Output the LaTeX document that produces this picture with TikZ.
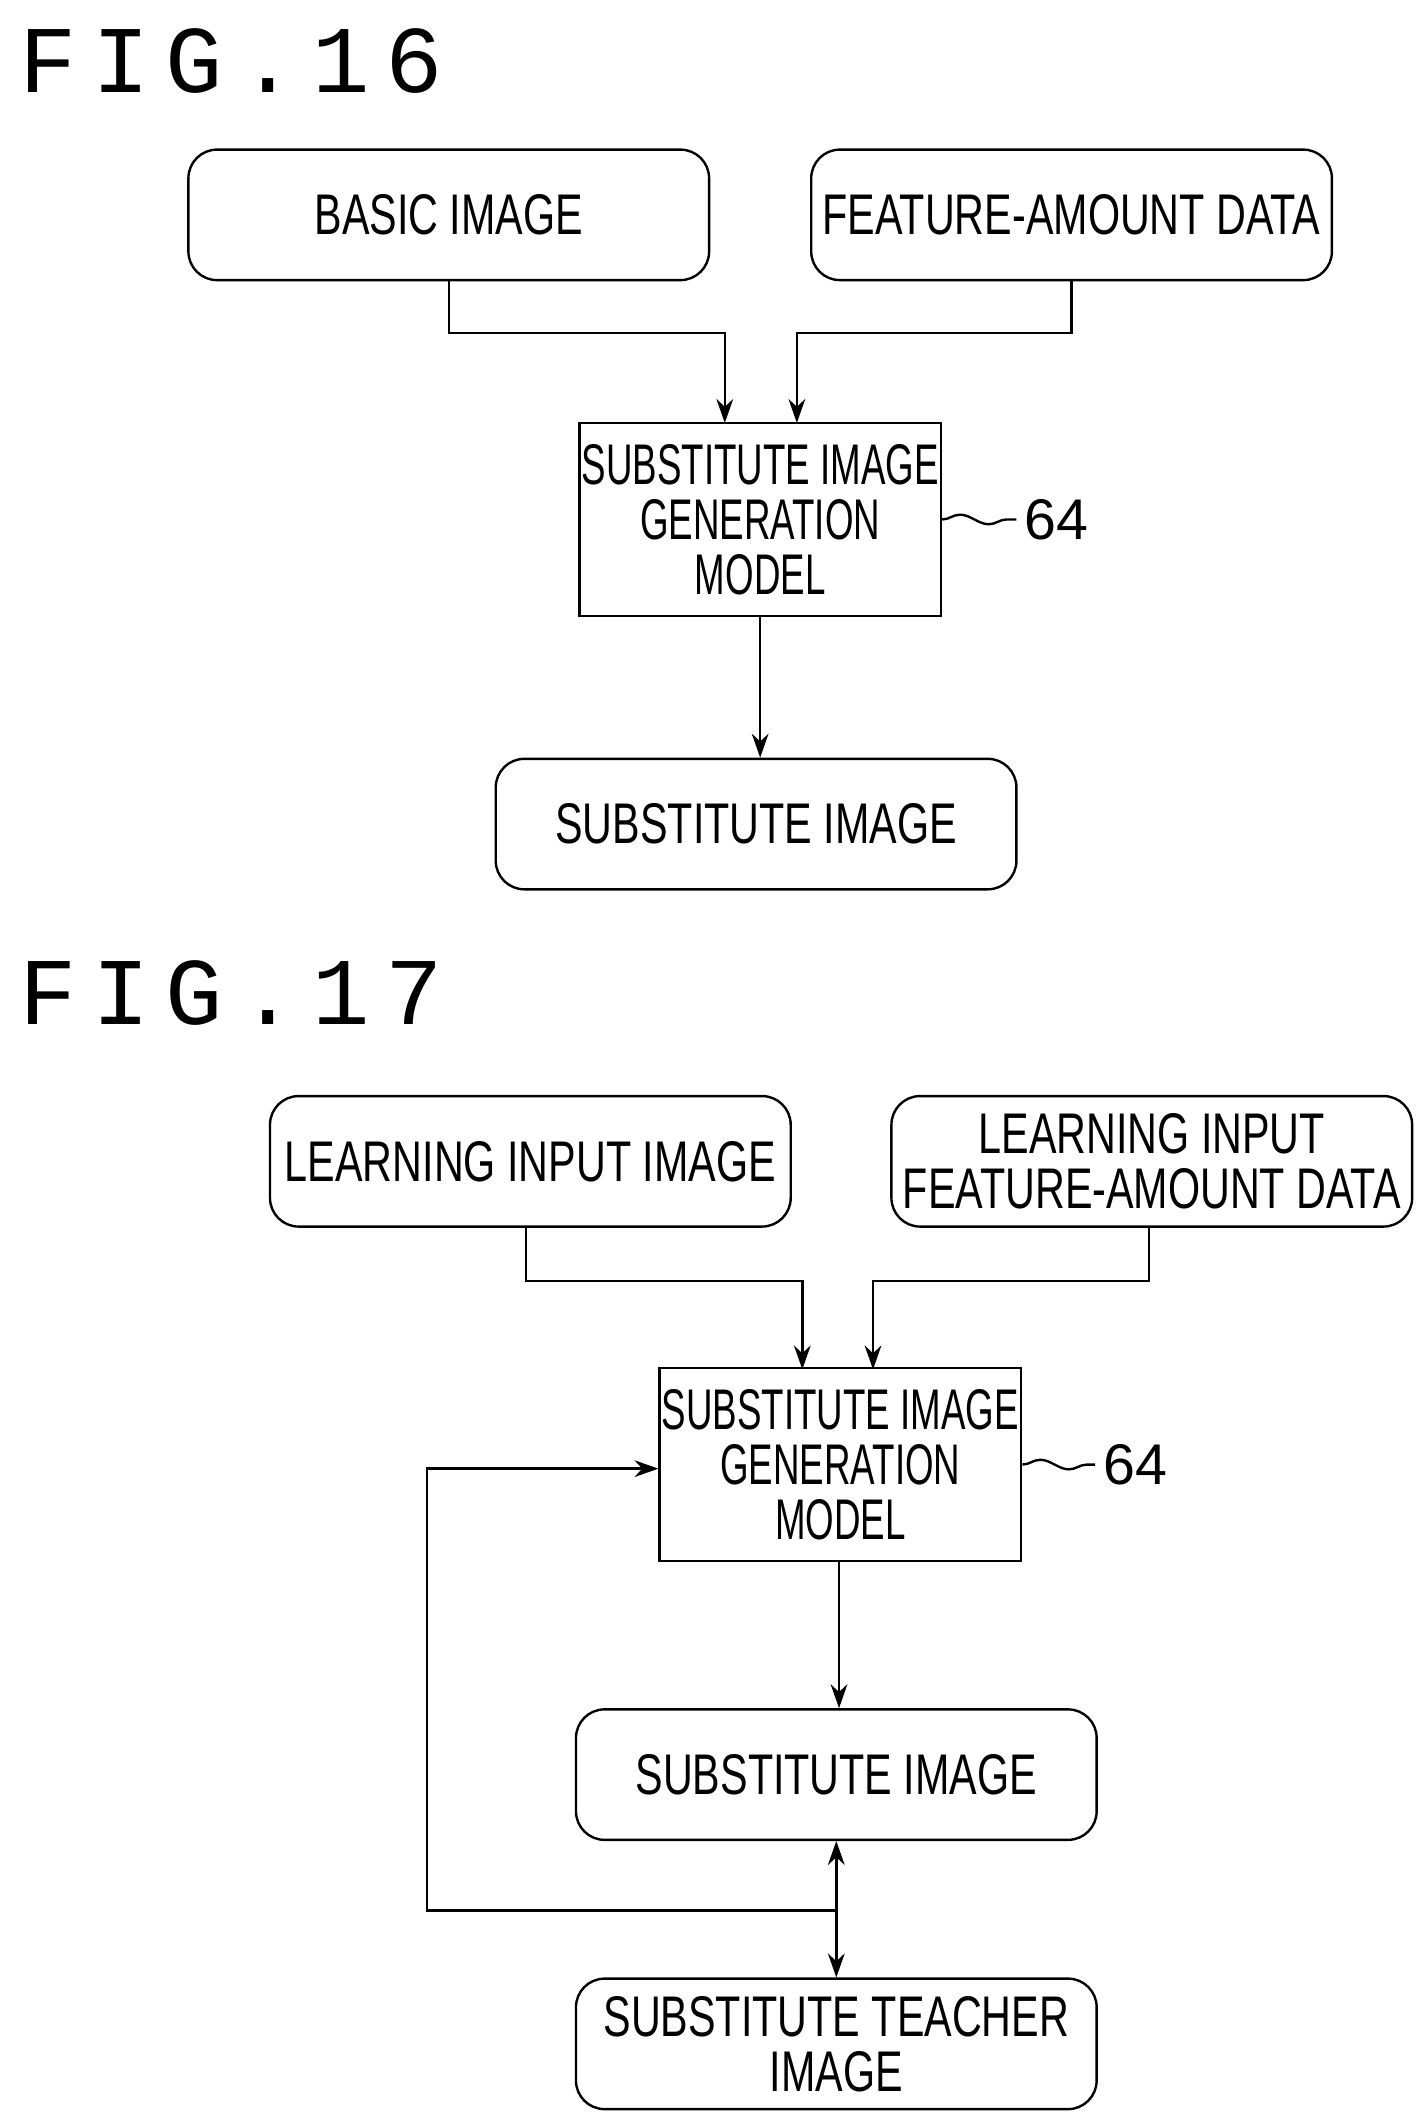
\documentclass[tikz,border=0pt]{standalone}
\usepackage{fontspec}
\setmainfont{Liberation Sans}
\newfontfamily\cond[FakeStretch=0.72]{Liberation Sans}
\newfontfamily\condm[FakeStretch=0.64]{Liberation Sans}
\newfontfamily\figfont{Liberation Mono}
\usetikzlibrary{arrows.meta,decorations.pathmorphing}

\begin{document}
\begin{tikzpicture}[x=0.02cm, y=-0.02cm,
    rbox/.style={draw, line width=1pt, rounded corners=12pt, minimum width=7.66cm, minimum height=1.92cm, align=center, font=\cond\fontsize{24}{23}\selectfont},
    mbox/.style={draw, line width=1pt, inner xsep=1pt, minimum width=5.3cm, minimum height=2.84cm, align=center, font=\condm\fontsize{24}{23}\selectfont},
    arr/.style={line width=1pt, -{Stealth[length=10pt, width=7pt]}},
    title/.style={anchor=west, font=\figfont\fontsize{40}{40}\selectfont},
    ref/.style={font=\fontsize{24}{24}\selectfont},
    wave/.style={line width=1pt, decorate, decoration={snake, amplitude=2pt, segment length=24pt}}]
            \useasboundingbox (0,0) rectangle (1050,1559);

            % FIG. 16
            \node[title] (t16) at (8,45) {F\,I\,G\,.\,1\,6};
            \node[rbox] (basic) at (330,158) {BASIC IMAGE};
            \node[rbox] (feat) at (788,158) {FEATURE-AMOUNT DATA};
            \node[mbox] (model) at (559,382) {SUBSTITUTE IMAGE\\GENERATION\\MODEL};
            \node[rbox] (subst) at (556,606) {SUBSTITUTE IMAGE};
            \node[ref] (r64) at (777,382) {64};

            \draw[arr] (basic.south) -- (330,245) -| (533,311);
            \draw[arr] (feat.south) -- (788,245) -| (586,311);
            \draw[arr] (model.south -| 559,0) -- (subst.north -| 559,0);
            \draw[wave] (model.east) -- (r64.west);

            % FIG. 17
            \node[title] (t17) at (8,730) {F\,I\,G\,.\,1\,7};
            \node[rbox] (linput) at (390,854) {LEARNING INPUT IMAGE};
            \node[rbox] (lfeat) at (847,854) {LEARNING INPUT\\FEATURE-AMOUNT DATA};
            \node[mbox] (lmodel) at (618,1077) {SUBSTITUTE IMAGE\\GENERATION\\MODEL};
            \node[rbox] (lsubst) at (615,1305) {SUBSTITUTE IMAGE};
            \node[rbox] (teacher) at (615,1503) {SUBSTITUTE TEACHER\\IMAGE};
            \node[ref] (l64) at (835,1077) {64};
            \coordinate (joint) at (615,1405);

            \draw[arr] (linput.south -| 387,0) -- (387,942) -| (590,1007);
            \draw[arr] (lfeat.south -| 845,0) -- (845,942) -| (642,1007);
            \draw[arr] (lmodel.south -| 617,0) -- (lsubst.north -| 617,0);
            \draw[arr] (joint) -- (lsubst.south);
            \draw[arr] (joint) -- (teacher.north);
            \draw[arr] (joint) -| (314,1080) -- (lmodel.west |- 0,1080);
            \draw[wave] (lmodel.east) -- (l64.west);
\end{tikzpicture}
\end{document}
